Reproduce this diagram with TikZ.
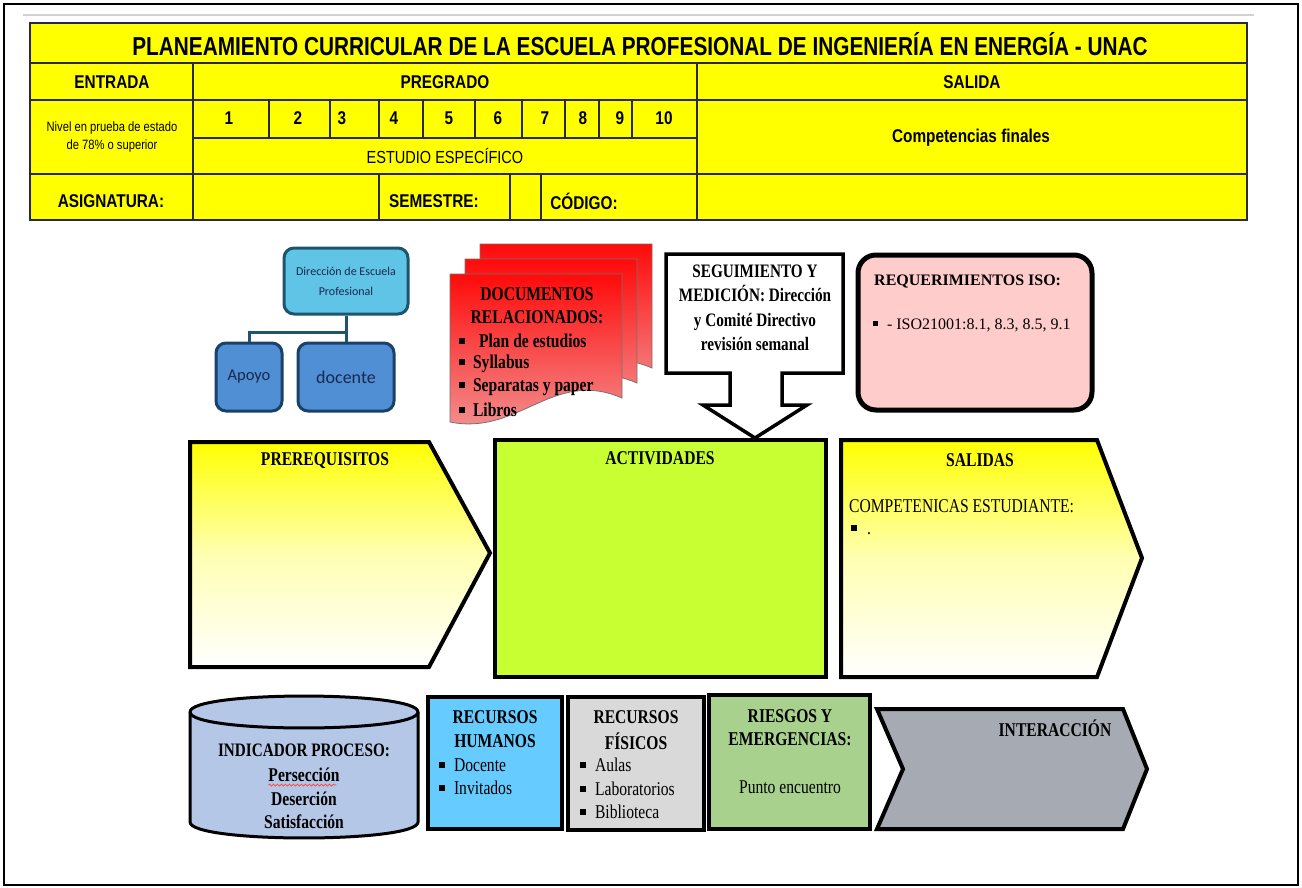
\documentclass[tikz,border=0pt]{standalone}
\usepackage{fontspec}
\setmainfont{Liberation Serif}
\newfontfamily\titlef[FakeStretch=0.8]{Liberation Sans}
\newfontfamily\arialn[FakeStretch=0.83]{Liberation Sans}
\newfontfamily\tnr[FakeStretch=0.8]{Liberation Serif}
\newfontfamily\calib{Carlito}
\usetikzlibrary{decorations.pathmorphing}
\newcommand\sqb{\rule[0.18em]{0.3em}{0.3em}}
\definecolor{tblc}{RGB}{40,40,70}
\definecolor{yel}{RGB}{255,255,0}
\definecolor{orgtop}{RGB}{96,196,230}
\definecolor{orgtopb}{RGB}{30,85,110}
\definecolor{orgbot}{RGB}{80,143,212}
\definecolor{orgbotb}{RGB}{25,65,105}
\definecolor{orgtxt}{RGB}{25,40,80}
\definecolor{docred}{RGB}{255,10,10}
\definecolor{docpink}{RGB}{242,150,150}
\definecolor{reqpink}{RGB}{255,204,204}
\definecolor{lime}{RGB}{200,255,50}
\definecolor{cylc}{RGB}{180,199,231}
\definecolor{rhc}{RGB}{102,204,255}
\definecolor{rfc}{RGB}{217,217,217}
\definecolor{rgc}{RGB}{169,209,142}
\definecolor{intc}{RGB}{166,170,178}
\tikzset{
  tline/.style={draw=tblc, line width=1.4pt},
  ttxt/.style={inner sep=0pt, font=\arialn\bfseries\fontsize{18.5}{21}\selectfont},
  lbl/.style={inner sep=0pt, font=\tnr\bfseries\fontsize{19.5}{22}\selectfont},
  reg/.style={inner sep=0pt, font=\tnr\fontsize{19.5}{22}\selectfont},
  thick box/.style={draw=black, line width=4pt},
  page/.style={draw=black!55, line width=0.8pt, top color=docred, bottom color=docpink},
  orgA/.style={draw=orgtopb, fill=orgtop, line width=3pt, rounded corners=10pt, inner sep=0pt},
  orgB/.style={draw=orgbotb, fill=orgbot, line width=3pt, rounded corners=10pt, inner sep=0pt},
}
\begin{document}
\begin{tikzpicture}[x=1pt,y=-1pt]
\useasboundingbox (0,0) rectangle (1302,887);
\fill[white] (0,0) rectangle (1302,887);
\draw[line width=1.8pt] (4,4) rectangle (1298,885);
\draw[gray!35, line width=1.5pt] (23,15) -- (1254,15);

% ---------------- table ----------------
\fill[yel] (30,23) rectangle (1247,220);
\draw[tline] (30,23) rectangle (1247,220);
\draw[tline] (30,63) -- (1247,63);
\draw[tline] (30,100) -- (1247,100);
\draw[tline] (193,138) -- (697,138);
\draw[tline] (30,174) -- (1247,174);
\draw[tline] (193,63) -- (193,220);
\draw[tline] (697,63) -- (697,220);
\foreach \cx in {269,330,379,423,475,522,565,599,632} \draw[tline] (\cx,100) -- (\cx,138);
\foreach \cx in {379,510,541} \draw[tline] (\cx,174) -- (\cx,220);

\node[inner sep=0pt, font=\titlef\bfseries\fontsize{26}{30}\selectfont] (title) at (640,44) {PLANEAMIENTO CURRICULAR DE LA ESCUELA PROFESIONAL DE INGENIERÍA EN ENERGÍA - UNAC};
\node[ttxt] (entrada) at (112,82) {ENTRADA};
\node[ttxt] (pregrado) at (445,82) {PREGRADO};
\node[ttxt] (salida) at (972,82) {SALIDA};
\node[ttxt] (n1) at (229,118) {1};
\node[ttxt] (n2) at (298,118) {2};
\node[ttxt] (n3) at (342,118) {3};
\node[ttxt] (n4) at (394,118) {4};
\node[ttxt] (n5) at (449,118) {5};
\node[ttxt] (n6) at (498,118) {6};
\node[ttxt] (n7) at (545,118) {7};
\node[ttxt] (n8) at (583,118) {8};
\node[ttxt] (n9) at (620,118) {9};
\node[ttxt] (n10) at (664,118) {10};
\node[inner sep=0pt, align=center, font=\arialn\fontsize{13.5}{18}\selectfont] (nivel) at (112,137) {Nivel en prueba de estado\\de 78\% o superior};
\node[inner sep=0pt, font=\arialn\fontsize{17.5}{20}\selectfont] (estudio) at (445,156) {ESTUDIO ESPECÍFICO};
\node[ttxt] (compf) at (971,138) {Competencias finales};
\node[ttxt] (asig) at (111,201) {ASIGNATURA:};
\node[ttxt] (sem) at (434,201) {SEMESTRE:};
\node[ttxt] (cod) at (584,201) {CÓDIGO:};

% ---------------- org chart ----------------
\node[orgA, minimum width=124pt, minimum height=66pt, align=center, font=\calib\fontsize{12}{20}\selectfont, text=orgtxt] (dir) at (346,281) {Dirección de Escuela\\Profesional};
\node[orgB, minimum width=66pt, minimum height=68pt, font=\calib\fontsize{16.5}{19}\selectfont, text=orgtxt] (apoyo) at (249,377) {Apoyo};
\node[orgB, minimum width=96pt, minimum height=68pt, font=\calib\fontsize{18}{20}\selectfont, text=orgtxt] (docente) at (346,377) {docente};
\draw[orgtopb, line width=3pt] (dir.south) -- ++(0,17) -| (apoyo.north);
\draw[orgtopb, line width=3pt] (dir.south) -- (docente.north);

% ---------------- documents ----------------
\path[page] (480,244) -- (652,244) -- (652,368) .. controls (583,338) and (549,406) .. (480,392) -- cycle;
\path[page] (465,259) -- (637,259) -- (637,383) .. controls (568,353) and (534,421) .. (465,407) -- cycle;
\path[page] (450,274) -- (622,274) -- (622,398) .. controls (553,368) and (519,436) .. (450,422) -- cycle;
\node[lbl] (docA) at (537,294) {DOCUMENTOS};
\node[lbl] (docB) at (537,317) {RELACIONADOS:};
\node[lbl, anchor=west] (doc1) at (459,341) {\sqb\hspace{14pt}Plan de estudios};
\node[lbl, anchor=west] (doc2) at (459,364) {\sqb\hspace{8pt}Syllabus};
\node[lbl, anchor=west] (doc3) at (459,387) {\sqb\hspace{8pt}Separatas y paper};
\node[lbl, anchor=west] (doc4) at (459,410) {\sqb\hspace{8pt}Libros};

% ---------------- seguimiento callout ----------------
\draw[fill=white, line width=3.5pt, line join=miter] (666,254) -- (843,254) -- (843,373) -- (782,373) -- (782,405) -- (807,405) -- (755,438) -- (703,405) -- (730,405) -- (730,373) -- (666,373) -- cycle;
\node[lbl, align=center, font=\tnr\bfseries\fontsize{19}{24.5}\selectfont] (seg) at (755,308) {SEGUIMIENTO Y\\MEDICIÓN: Dirección\\y Comité Directivo\\revisión semanal};

% ---------------- requerimientos ----------------
\draw[fill=reqpink, line width=5pt, rounded corners=18pt] (858,255) rectangle (1092,410);
\node[inner sep=0pt, anchor=west, font=\bfseries\fontsize{16}{19}\selectfont] (req) at (874,281) {REQUERIMIENTOS ISO:};
\node[inner sep=0pt, anchor=west, font=\fontsize{16}{19}\selectfont] (iso) at (873,325) {\sqb\hspace{9pt}- ISO21001:8.1, 8.3, 8.5, 9.1};

% ---------------- middle row ----------------
\draw[thick box, top color=yel, bottom color=white, middle color=yel!30, line join=miter] (190,442) -- (429,442) -- (490,553) -- (429,667) -- (190,667) -- cycle;
\node[lbl] (pre) at (325,461) {PREREQUISITOS};
\draw[thick box, fill=lime] (495,440) rectangle (826,677);
\node[lbl] (act) at (660,458) {ACTIVIDADES};
\draw[thick box, top color=yel, bottom color=white, middle color=yel!30, line join=miter] (841,440) -- (1097,440) -- (1142,558) -- (1097,677) -- (841,677) -- cycle;
\node[lbl] (sal) at (980,460) {SALIDAS};
\node[reg, anchor=west] (comp) at (849,506) {COMPETENICAS ESTUDIANTE:};
\node[reg, anchor=west] (compb) at (851,530) {\sqb\hspace{10pt}.};

% ---------------- bottom row ----------------
\draw[fill=cylc, line width=3pt] (190,712) -- (190,822) .. controls (190,843.3) and (418,843.3) .. (418,822) -- (418,712) .. controls (418,690.7) and (190,690.7) .. (190,712) -- cycle;
\draw[line width=3pt] (190,712) .. controls (190,733.3) and (418,733.3) .. (418,712);
\node[lbl, font=\tnr\bfseries\fontsize{19}{22}\selectfont] (ind) at (304,750) {INDICADOR PROCESO:};
\node[lbl] (ind1) at (304,775) {Persección};
\draw[red!75, line width=0.7pt, decorate, decoration={snake, amplitude=1pt, segment length=4pt}] (ind1.south west) ++(0,3) -- ++(68,0);
\node[lbl] (ind2) at (304,799) {Deserción};
\node[lbl] (ind3) at (304,822) {Satisfacción};

\draw[thick box, fill=rhc] (428,697) rectangle (562,829);
\node[lbl] (rh1) at (495,717) {RECURSOS};
\node[lbl] (rh2) at (495,741) {HUMANOS};
\node[reg, anchor=west] (rh3) at (439,765) {\sqb\hspace{9pt}Docente};
\node[reg, anchor=west] (rh4) at (439,788) {\sqb\hspace{9pt}Invitados};

\draw[thick box, fill=rfc] (568,697) rectangle (704,830);
\node[lbl] (rf1) at (636,717) {RECURSOS};
\node[lbl] (rf2) at (636,741) {FÍSICOS};
\node[reg, anchor=west] (rf3) at (580,765) {\sqb\hspace{9pt}Aulas};
\node[reg, anchor=west] (rf4) at (580,789) {\sqb\hspace{9pt}Laboratorios};
\node[reg, anchor=west] (rf5) at (580,812) {\sqb\hspace{9pt}Biblioteca};

\draw[thick box, fill=rgc] (709,695) rectangle (870,829);
\node[lbl] (rg1) at (790,716) {RIESGOS Y};
\node[lbl] (rg2) at (790,739) {EMERGENCIAS:};
\node[reg] (rg3) at (790,787) {Punto encuentro};

\draw[thick box, fill=intc, line join=miter] (877,709) -- (1123,709) -- (1147,769) -- (1123,829) -- (877,829) -- (903,769) -- cycle;
\node[lbl] (inter) at (1055,728) {INTERACCIÓN};
\end{tikzpicture}
\end{document}
